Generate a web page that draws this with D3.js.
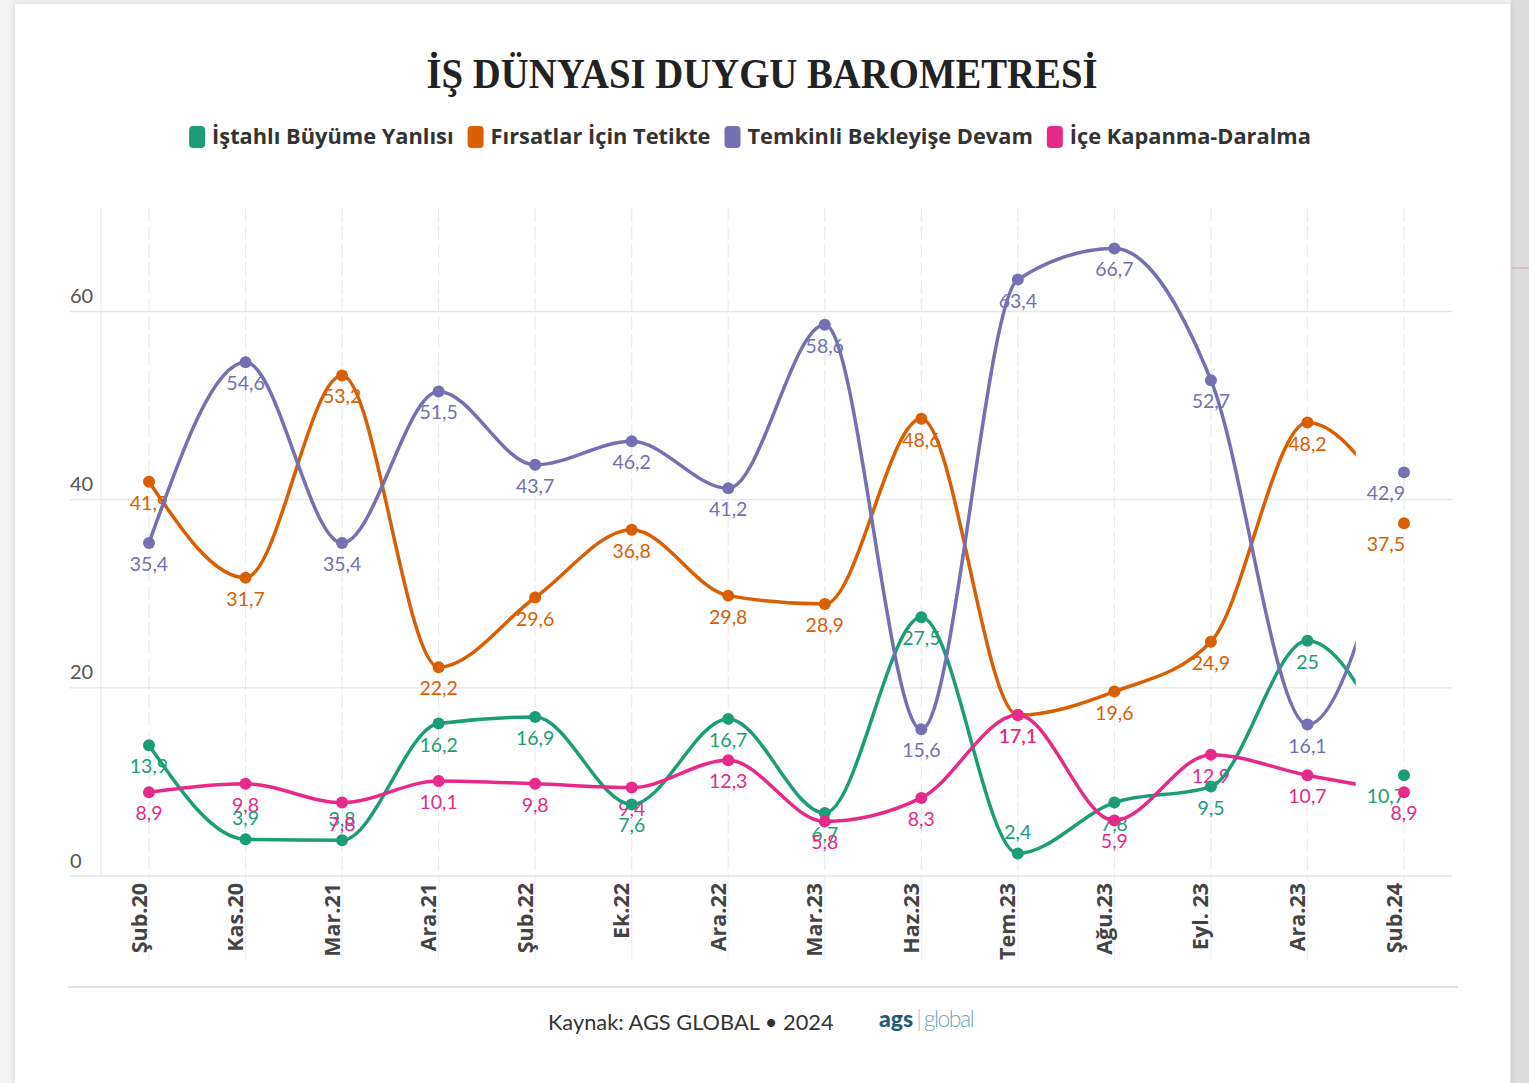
<!DOCTYPE html>
<html>
<head>
<meta charset="utf-8">
<script src="https://cdn.jsdelivr.net/npm/d3@7"></script>
<style>
  body { margin: 0; background: #f2f2f2; }
  svg { display: block; }
</style>
</head>
<body>
<div class="body"></div>
<script>
const categories = ["Şub.20", "Kas.20", "Mar.21", "Ara.21", "Şub.22", "Ek.22", "Ara.22",
  "Mar.23", "Haz.23", "Tem.23", "Ağu.23", "Eyl. 23", "Ara.23", "Şub.24"];

const seriesNames = ["İştahlı Büyüme Yanlısı", "Fırsatlar İçin Tetikte",
  "Temkinli Bekleyişe Devam", "İçe Kapanma-Daralma"];

const istahli = [13.9, 3.9, 3.8, 16.2, 16.9, 7.6, 16.7, 6.7, 27.5, 2.4, 7.8, 9.5, 25, 10.7];
const firsatlar = [41.9, 31.7, 53.2, 22.2, 29.6, 36.8, 29.8, 28.9, 48.6, 17.1, 19.6, 24.9, 48.2, 37.5];
const temkinli = [35.4, 54.6, 35.4, 51.5, 43.7, 46.2, 41.2, 58.6, 15.6, 63.4, 66.7, 52.7, 16.1, 42.9];
const iceKapanma = [8.9, 9.8, 7.8, 10.1, 9.8, 9.4, 12.3, 5.8, 8.3, 17.1, 5.9, 12.9, 10.7, 8.9];

const yTicks = [0, 20, 40, 60];
const colors = ["#1b9e77", "#d95f02", "#7570b3", "#e7298a"];

const series = [istahli, firsatlar, temkinli, iceKapanma].map((values, i) => ({
  name: seriesNames[i],
  color: colors[i],
  values: values,
}));

const W = 1529, H = 1083;

const svg = d3.select(".body").append("svg").attr("width", W).attr("height", H);

// page / card background
svg.append("rect").attr("width", W).attr("height", H).attr("fill", "#f3f3f3");
svg.append("rect").attr("x", 1511).attr("y", 0).attr("width", 18).attr("height", H).attr("fill", "#dcdcdc");
svg.append("line").attr("x1", 1512).attr("x2", W).attr("y1", 268).attr("y2", 268)
  .attr("stroke", "#d9b3c6").attr("stroke-width", 1.5);
svg.append("rect").attr("x", 15).attr("y", 4).attr("width", 1495).attr("height", H)
  .attr("fill", "#fff").style("filter", "drop-shadow(0 0 3px rgba(0,0,0,0.12))");

// title
svg.append("text")
  .attr("x", 762).attr("y", 88)
  .attr("text-anchor", "middle")
  .attr("textLength", 671)
  .attr("lengthAdjust", "spacingAndGlyphs")
  .style("font-family", "'Liberation Serif', 'DejaVu Serif', serif")
  .style("font-weight", "bold")
  .style("font-size", "43px")
  .style("fill", "#222")
  .text("İŞ DÜNYASI DUYGU BAROMETRESİ");

// legend
const legend = svg.append("g");
let lx = 0;
series.forEach((s) => {
  const g = legend.append("g").attr("transform", `translate(${lx},0)`);
  g.append("rect").attr("x", 0).attr("y", -11).attr("width", 16).attr("height", 22)
    .attr("rx", 4).attr("fill", s.color);
  const t = g.append("text").attr("x", 23).attr("y", 7)
    .style("font-family", "'Open Sans', 'Noto Sans', sans-serif")
    .style("font-weight", "bold")
    .style("font-size", "21.8px")
    .style("fill", "#333")
    .text(s.name);
  lx += 23 + t.node().getComputedTextLength() + 14;
});
legend.attr("transform", `translate(${750 - (lx - 14) / 2},137)`);

// scales
const x = d3.scalePoint().domain(categories).range([149, 1404]);
const y = d3.scaleLinear().domain([0, 71]).range([876, 208]);

// grid
const grid = svg.append("g");
grid.selectAll(".vgrid").data(categories).join("line")
  .attr("x1", (d) => x(d)).attr("x2", (d) => x(d))
  .attr("y1", y(71)).attr("y2", y(0))
  .attr("stroke", "#ebebeb").attr("stroke-width", 1.2)
  .attr("stroke-dasharray", "14,4");
grid.selectAll(".vgrid2").data(categories).join("line")
  .attr("x1", (d) => x(d)).attr("x2", (d) => x(d))
  .attr("y1", y(0)).attr("y2", 960)
  .attr("stroke", "#f0f0f0").attr("stroke-width", 1.2);
grid.append("line").attr("x1", 101).attr("x2", 101).attr("y1", y(71)).attr("y2", y(0))
  .attr("stroke", "#ececec").attr("stroke-width", 1.2);
grid.selectAll(".hgrid").data(yTicks).join("line")
  .attr("x1", 70).attr("x2", 1452)
  .attr("y1", (d) => y(d)).attr("y2", (d) => y(d))
  .attr("stroke", "#e6e6e6").attr("stroke-width", 1.3);

const yAxis = d3.axisLeft(y).tickValues(yTicks).tickSize(0).tickFormat(d3.format("d"));
svg.append("g").attr("transform", "translate(70,0)").call(yAxis)
  .call((g) => g.select(".domain").remove())
  .call((g) => g.selectAll("text")
    .attr("x", 0).attr("dy", "-9px")
    .attr("text-anchor", "start")
    .style("font-family", "Lato, 'Noto Sans', sans-serif")
    .style("font-size", "20px")
    .style("fill", "#555"));

const xAxis = d3.axisBottom(x).tickSize(0);
svg.append("g").attr("transform", "translate(0,883)").call(xAxis)
  .call((g) => g.select(".domain").remove())
  .call((g) => g.selectAll("text")
    .attr("transform", "translate(-3,0) rotate(-90)")
    .attr("x", 0).attr("y", 0).attr("dy", 0)
    .attr("text-anchor", "end")
    .style("font-family", "'Open Sans', 'Noto Sans', sans-serif")
    .style("font-weight", "bold")
    .style("font-size", "21.5px")
    .style("fill", "#444"));

// value labels (under the lines); values near the bottom go above their point
const fmt = (v) => String(v).replace(".", ",");
const last = categories.length - 1;
series.forEach((s, si) => {
  svg.append("g").selectAll("text").data(s.values).join("text")
    .attr("x", (d, i) => x(categories[i]) + (i === last && si !== 3 ? 1 : 0))
    .attr("y", (d) => (d < 5 ? y(d) - 14 : y(d) + 28))
    .attr("text-anchor", (d, i) => (i === last && si !== 3 ? "end" : "middle"))
    .style("font-family", "Lato, 'Noto Sans', sans-serif")
    .style("font-size", "19.5px")
    .style("fill", s.color)
    .text((d) => fmt(d));
});

// lines, clipped half way to the last month
svg.append("clipPath").attr("id", "clip")
  .append("rect").attr("x", 0).attr("y", 0)
  .attr("width", (x(categories[last - 1]) + x(categories[last])) / 2).attr("height", H);

const line = d3.line()
  .x((d, i) => x(categories[i]))
  .y((d) => y(d))
  .curve(d3.curveMonotoneX);

series.forEach((s) => {
  svg.append("path")
    .datum(s.values)
    .attr("clip-path", "url(#clip)")
    .attr("d", line)
    .attr("fill", "none")
    .attr("stroke", s.color)
    .attr("stroke-width", 3.5)
    .attr("stroke-linecap", "round");
});

series.forEach((s) => {
  svg.append("g").selectAll("circle").data(s.values).join("circle")
    .attr("cx", (d, i) => x(categories[i]))
    .attr("cy", (d) => y(d))
    .attr("r", 6)
    .attr("fill", s.color);
});

// footer
svg.append("line").attr("x1", 68).attr("x2", 1458).attr("y1", 987).attr("y2", 987)
  .attr("stroke", "#e3e3e3").attr("stroke-width", 2);
svg.append("text").attr("x", 548).attr("y", 1030)
  .style("font-family", "Lato, 'Noto Sans', sans-serif")
  .style("font-size", "21.8px")
  .style("fill", "#333")
  .text("Kaynak: AGS GLOBAL • 2024");
const logo = svg.append("text").attr("x", 879).attr("y", 1027)
  .style("font-family", "Lato, 'Noto Sans', sans-serif")
  .style("font-size", "23px");
logo.append("tspan").style("font-weight", "900").style("fill", "#1e5c78").text("ags");
logo.append("tspan").attr("dx", 3).style("font-weight", "300").style("fill", "#9cc3cf").text("|");
logo.append("tspan").attr("dx", 2).style("font-weight", "300").style("fill", "#6fa7b8")
  .style("letter-spacing", "-1.5px").text("global");
</script>
</body>
</html>
